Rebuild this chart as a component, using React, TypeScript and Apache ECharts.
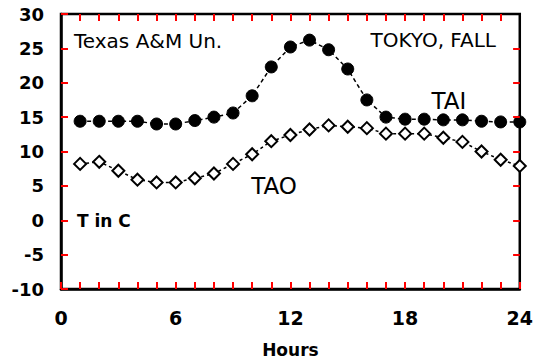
import React, { useEffect, useRef } from "react";
import * as echarts from "echarts";

const hours = [1, 2, 3, 4, 5, 6, 7, 8, 9, 10, 11, 12, 13, 14, 15, 16, 17, 18, 19, 20, 21, 22, 23, 24];
const taiValues = [14.4, 14.4, 14.4, 14.4, 14.0, 14.0, 14.5, 15.0, 15.6, 18.1, 22.3, 25.2, 26.2, 24.8, 22.0, 17.5, 15.0, 14.7, 14.7, 14.6, 14.6, 14.4, 14.3, 14.3];
const taoValues = [8.2, 8.5, 7.2, 5.9, 5.5, 5.5, 6.1, 6.8, 8.2, 9.6, 11.5, 12.4, 13.2, 13.8, 13.6, 13.4, 12.6, 12.6, 12.6, 12.0, 11.4, 10.0, 8.8, 7.9];
const xLabeled = [0, 6, 12, 18, 24];
const topTickHours = [1, 2, 3, 4, 5, 6, 7, 8, 9, 10, 11, 12, 13, 14, 15, 16, 17, 18, 19, 20, 21, 22, 23];
const rightTickValues = [-5, 0, 5, 10, 15, 20, 25];
const xMin = 0;
const xMax = 24;
const yMin = -10;
const yMax = 30;

const FONT = "'DejaVu Sans', Verdana, sans-serif";
const TICK_COLOR = "red";

export default function App() {
  const ref = useRef<HTMLDivElement>(null);
  useEffect(() => {
    if (!ref.current) return;
    const chart = echarts.init(ref.current, null, { renderer: "svg" });
    const frameTicks = [
      ...topTickHours.map((h) => [{ coord: [h, yMax] }, { coord: [h, yMax - 1.0] }]),
      ...rightTickValues.map((v) => [{ coord: [xMax, v] }, { coord: [xMax - 0.35, v] }]),
    ];
    chart.setOption({
      animation: false,
      grid: {
        left: 61,
        right: 12,
        top: 14,
        bottom: 74,
        show: true,
        borderColor: "#000",
        borderWidth: 2.5,
        backgroundColor: "transparent",
      },
      xAxis: {
        type: "value",
        min: xMin,
        max: xMax,
        interval: 1,
        axisLine: { show: true, onZero: false, lineStyle: { color: "#000", width: 2.5 } },
        axisTick: { show: true, inside: true, length: 7, lineStyle: { color: TICK_COLOR, width: 2 } },
        splitLine: { show: false },
        axisLabel: {
          margin: 19,
          color: "#000",
          fontFamily: FONT,
          fontWeight: "bold",
          fontSize: 19,
          formatter: (v: number) => (xLabeled.includes(v) ? String(v) : ""),
        },
        name: "Hours",
        nameLocation: "middle",
        nameGap: 52,
        nameTextStyle: { color: "#000", fontFamily: FONT, fontWeight: "bold", fontSize: 17 },
      },
      yAxis: {
        type: "value",
        min: yMin,
        max: yMax,
        interval: 5,
        axisLine: { show: true, onZero: false, lineStyle: { color: "#000", width: 2.5 } },
        axisTick: { show: true, inside: true, length: 7, lineStyle: { color: TICK_COLOR, width: 2 } },
        splitLine: { show: false },
        axisLabel: {
          margin: 17,
          color: "#000",
          fontFamily: FONT,
          fontWeight: "bold",
          fontSize: 18,
        },
      },
      series: [
        {
          name: "TAI",
          type: "line",
          data: hours.map((h, i) => [h, taiValues[i]]),
          symbol: "circle",
          symbolSize: 12,
          itemStyle: { color: "#000", borderColor: "#000" },
          lineStyle: { color: "#000", width: 1.5, type: [4, 3] },
          z: 3,
          markLine: {
            silent: true,
            symbol: "none",
            label: { show: false },
            lineStyle: { color: TICK_COLOR, width: 2, type: "solid" },
            data: frameTicks,
          },
        },
        {
          name: "TAO",
          type: "line",
          data: hours.map((h, i) => [h, taoValues[i]]),
          symbol: "diamond",
          symbolSize: 12,
          itemStyle: { color: "#fff", borderColor: "#000", borderWidth: 2 },
          lineStyle: { color: "#000", width: 1.5, type: [3, 3] },
          z: 2,
        },
      ],
      graphic: [
        {
          type: "text",
          x: 74,
          y: 41,
          style: { text: "Texas A&M Un.", font: `normal 20px ${FONT}`, fill: "#000", textAlign: "left", textVerticalAlign: "middle" },
        },
        {
          type: "text",
          x: 496,
          y: 40,
          style: { text: "TOKYO, FALL", font: `normal 20px ${FONT}`, fill: "#000", textAlign: "right", textVerticalAlign: "middle" },
        },
        {
          type: "text",
          x: 449,
          y: 101,
          style: { text: "TAI", font: `normal 23px ${FONT}`, fill: "#000", textAlign: "center", textVerticalAlign: "middle" },
        },
        {
          type: "text",
          x: 274,
          y: 186,
          style: { text: "TAO", font: `normal 23px ${FONT}`, fill: "#000", textAlign: "center", textVerticalAlign: "middle" },
        },
        {
          type: "text",
          x: 77,
          y: 221,
          style: { text: "T in C", font: `bold 17px ${FONT}`, fill: "#000", textAlign: "left", textVerticalAlign: "middle" },
        },
      ],
    });
    return () => chart.dispose();
  }, []);
  return <div ref={ref} style={{ width: 536, height: 363, position: "absolute", left: 0, top: 0, background: "#fff" }} />;
}
